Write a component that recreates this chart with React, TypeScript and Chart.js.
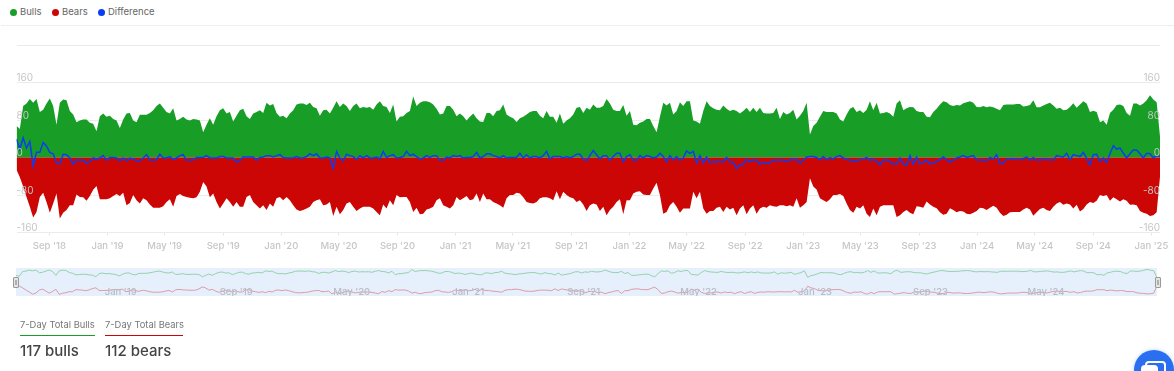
import React, { useEffect, useRef } from "react";
import { Chart, registerables } from "chart.js";

Chart.register(...registerables);

const startDate = Date.UTC(2018, 5, 24);
const endDate = Date.UTC(2025, 0, 19);
const weekMs = 7 * 24 * 3600 * 1000;

const bulls = [
  68,61,110,115,125,117,125,97,102,115,126,110,70,117,124,122,99,92,75,79,81,81,74,72,56,88,94,87,89,82,79,63,81,94,95,79,75,91,91,91,95,101,110,115,106,97,94,105,79,82,87,81,79,82,81,79,54,70,84,70,88,101,105,94,97,77,89,101,104,88,82,94,97,101,95,117,111,114,95,87,89,84,94,101,113,115,
  115,112,117,108,105,89,101,102,94,106,120,108,115,110,99,110,115,105,108,106,108,102,113,120,110,108,95,113,77,87,88,95,99,130,110,117,120,120,118,113,104,92,94,110,110,102,88,94,88,79,87,94,84,77,76,95,95,88,99,101,113,92,87,84,76,84,87,92,97,99,99,89,84,99,87,87,74,94,72,79,84,92,106,108,95,106,102,113,106,106,
  110,125,115,102,99,99,112,89,99,70,69,74,77,82,82,67,54,87,117,111,117,92,99,118,110,120,120,79,77,72,99,120,110,105,102,101,111,104,99,102,99,94,99,106,97,106,97,106,95,94,94,95,106,82,97,92,95,102,81,89,99,117,49,67,74,87,99,97,97,97,94,81,77,92,104,108,97,101,95,102,120,101,117,94,95,97,94,87,115,122,
  101,105,108,107,99,97,97,87,86,97,104,113,120,118,112,110,112,111,116,118,120,117,108,107,110,107,109,107,104,101,112,113,113,113,114,114,109,110,112,122,107,107,111,114,117,111,104,106,101,102,108,116,106,113,120,115,97,100,97,75,79,70,95,102,112,113,110,95,89,115,115,111,115,122,133,124,118,45,
];

const bears = [
  -26,-42,-62,-84,-105,-128,-116,-84,-75,-95,-118,-98,-77,-130,-118,-112,-102,-102,-79,-84,-85,-92,-82,-69,-61,-89,-89,-89,-87,-82,-78,-82,-75,-102,-97,-80,-91,-98,-87,-91,-100,-107,-107,-107,-104,-95,-89,-105,-82,-78,-82,-84,-86,-87,-85,-73,-52,-62,-85,-77,-95,-109,-98,-87,-95,-105,-95,-105,-105,-84,-80,-95,-102,-109,-102,-112,-98,-105,-87,-84,-91,-84,-91,-102,-111,-114,
  -112,-109,-105,-95,-91,-89,-102,-100,-95,-125,-105,-121,-112,-98,-95,-105,-114,-109,-105,-105,-105,-109,-116,-123,-100,-109,-91,-102,-80,-85,-84,-84,-95,-116,-107,-121,-120,-111,-109,-105,-91,-87,-102,-105,-109,-102,-84,-91,-87,-82,-91,-89,-77,-95,-77,-89,-89,-95,-98,-102,-107,-87,-80,-80,-75,-77,-85,-95,-97,-98,-95,-87,-85,-85,-87,-91,-72,-89,-73,-80,-85,-87,-95,-91,-100,-114,-102,-98,-100,-114,
  -105,-123,-112,-105,-95,-89,-121,-91,-91,-77,-73,-72,-79,-80,-80,-66,-54,-80,-120,-116,-102,-95,-105,-118,-109,-109,-109,-73,-87,-73,-109,-120,-114,-114,-107,-105,-116,-105,-111,-107,-123,-109,-102,-121,-109,-102,-120,-109,-105,-107,-102,-104,-105,-102,-102,-104,-102,-105,-87,-107,-102,-95,-44,-62,-68,-87,-91,-95,-89,-80,-80,-78,-82,-98,-112,-118,-105,-109,-102,-120,-127,-109,-123,-105,-102,-102,-102,-102,-127,-123,
  -116,-112,-118,-121,-104,-105,-107,-94,-100,-105,-108,-117,-122,-120,-108,-112,-117,-114,-115,-120,-121,-118,-114,-107,-108,-112,-107,-103,-107,-118,-125,-122,-117,-116,-116,-116,-111,-107,-111,-124,-117,-110,-107,-112,-114,-105,-98,-95,-101,-98,-100,-109,-101,-115,-110,-100,-95,-97,-92,-80,-82,-80,-92,-85,-89,-94,-89,-92,-101,-100,-102,-114,-118,-120,-125,-123,-117,-41,
];

const difference = [
  39,18,42,20,34,-18,11,11,32,24,11,8,-11,-14,7,6,-1,-14,-5,-6,-6,-12,-9,-1,-3,-1,4,-6,0,0,-1,-7,-1,-7,-1,-3,-7,-7,-1,6,-5,-7,-4,7,-1,-1,2,-4,-1,4,6,-6,-6,-5,0,0,0,4,-1,-1,-1,2,2,-1,-1,-1,-10,-6,1,1,1,1,-6,0,1,4,4,1,4,6,0,-1,-1,-1,2,-1,
  -1,2,8,4,8,-1,-1,1,-1,-23,13,-1,-7,7,4,2,-4,4,-1,4,-1,-1,1,-3,13,0,4,6,-1,0,2,13,4,7,2,-3,-1,4,0,4,4,-6,-6,1,-1,4,2,4,-1,0,0,2,11,-1,2,8,8,4,2,-1,4,-1,0,0,0,9,-1,6,-1,2,2,-1,4,13,-3,2,2,2,-1,2,-1,2,7,7,-3,-7,4,15,6,-3,
  4,4,-6,2,9,9,-9,2,6,-6,-6,4,-1,4,2,-1,1,9,2,-9,4,-5,2,-6,-1,14,9,13,-11,4,-12,1,-11,-9,-9,-9,-9,0,-9,-11,-23,-16,-14,-4,-9,-6,-5,-14,-11,-11,-11,-6,-6,-6,-6,-9,-5,-5,-4,-12,-6,1,2,2,0,-5,2,-5,0,-3,2,4,-1,-4,-6,-9,-7,-5,-4,0,-6,-4,-8,-16,-6,-5,-9,-14,-14,-1,
  -14,-16,4,-14,1,-14,-10,-6,-14,-11,-9,-4,1,-5,-10,-6,-1,1,4,0,2,4,-5,-6,-6,-7,0,-3,6,-14,-12,-4,-3,-2,-4,-5,-2,1,-6,0,-6,-5,-4,-4,-5,-6,4,2,1,9,-5,6,4,2,11,-2,-16,6,7,-9,-1,-11,8,25,18,20,9,-1,8,16,16,8,-1,9,8,-1,4,2,
];

const mainTickLabels = ["Sep '18","Jan '19","May '19","Sep '19","Jan '20","May '20","Sep '20","Jan '21","May '21","Sep '21","Jan '22","May '22","Sep '22","Jan '23","May '23","Sep '23","Jan '24","May '24","Sep '24","Jan '25"];
const mainTickDates = [[2018,8],[2019,0],[2019,4],[2019,8],[2020,0],[2020,4],[2020,8],[2021,0],[2021,4],[2021,8],[2022,0],[2022,4],[2022,8],[2023,0],[2023,4],[2023,8],[2024,0],[2024,4],[2024,8],[2025,0]];
const navTickLabels = ["Jan '19","Sep '19","May '20","Jan '21","Sep '21","May '22","Jan '23","Sep '23","May '24"];
const navTickDates = [[2019,0],[2019,8],[2020,4],[2021,0],[2021,8],[2022,4],[2023,0],[2023,8],[2024,4]];
const seriesNames = ["Bulls", "Bears", "Difference"];
const yTicks = [-160, -80, 0, 80, 160, 240];

const GREEN = "#189e27";
const RED = "#cc0505";
const BLUE = "#0b3ef2";
const FONT = "Inter, 'Noto Sans', sans-serif";

const pts = (a: number[]) => a.map((y, i) => ({ x: startDate + i * weekMs, y }));
const toMs = (l: number[][]) => l.map(([y, m]) => Date.UTC(y, m, 1));

export default function App() {
  const mainRef = useRef<HTMLCanvasElement>(null);
  const navRef = useRef<HTMLCanvasElement>(null);

  useEffect(() => {
    const mainMs = toMs(mainTickDates);
    const navMs = toMs(navTickDates);
    const yOpts = (position: string, drawGrid: boolean) => ({
      type: "linear",
      position,
      min: -160,
      max: 240,
      afterBuildTicks: (s: any) => { s.ticks = yTicks.map((value) => ({ value })); },
      afterFit: (s: any) => { s.width = 0; },
      grid: { display: drawGrid, color: "#ebebeb", drawTicks: false },
      border: { display: false },
      ticks: {
        mirror: true,
        padding: 0,
        z: 2,
        labelOffset: -4.5,
        color: "#c6c6c6",
        font: { family: FONT, size: 10 },
        callback: (v: number) => (v === 240 ? "" : String(v)),
      },
    });
    const main = new Chart(mainRef.current!, {
      type: "line",
      data: {
        datasets: [
          { label: seriesNames[0], data: pts(bulls), backgroundColor: GREEN, borderWidth: 0, fill: "origin", pointRadius: 0, order: 2 },
          { label: seriesNames[1], data: pts(bears), backgroundColor: RED, borderWidth: 0, fill: "origin", pointRadius: 0, order: 1 },
          { label: seriesNames[2], data: pts(difference), borderColor: BLUE, borderWidth: 1.5, fill: false, pointRadius: 0, order: 0, yAxisID: "y" },
        ],
      } as any,
      options: {
        responsive: false,
        animation: false,
        devicePixelRatio: 1,
        layout: { padding: { left: 16.5, right: 14, top: 45, bottom: 0 } },
        plugins: { legend: { display: false }, tooltip: { enabled: false } },
        scales: {
          x: {
            type: "linear",
            min: startDate,
            max: endDate,
            afterBuildTicks: (s: any) => { s.ticks = mainMs.map((value) => ({ value })); },
            afterFit: (s: any) => { s.height = 27.5; },
            grid: { drawOnChartArea: false, color: "#e6e6e6", tickLength: 3 },
            border: { display: false },
            ticks: {
              autoSkip: false,
              maxRotation: 0,
              padding: 5,
              color: "#c6c6c6",
              font: { family: FONT, size: 9.5, weight: 500 },
              callback: (_: any, i: number) => mainTickLabels[i],
            },
          },
          y: yOpts("left", true),
          y2: yOpts("right", false),
        },
      } as any,
    });
    const nav = new Chart(navRef.current!, {
      type: "line",
      data: {
        datasets: [
          { label: seriesNames[0], data: pts(bulls), borderColor: "#94d2a8", borderWidth: 1, fill: false, pointRadius: 0 },
          { label: seriesNames[1], data: pts(bears), borderColor: "#dc9ba6", borderWidth: 1, fill: false, pointRadius: 0 },
        ],
      } as any,
      options: {
        responsive: false,
        animation: false,
        devicePixelRatio: 1,
        layout: { padding: 0 },
        plugins: { legend: { display: false }, tooltip: { enabled: false } },
        scales: {
          x: {
            type: "linear",
            min: startDate,
            max: endDate,
            afterBuildTicks: (s: any) => { s.ticks = navMs.map((value) => ({ value })); },
            afterFit: (s: any) => { s.height = 0; },
            grid: { display: false, drawTicks: false },
            border: { display: false },
            ticks: {
              mirror: true,
              autoSkip: false,
              maxRotation: 0,
              padding: -1.5,
              z: 2,
              labelOffset: 14,
              color: "#b9bcc4",
              font: { family: FONT, size: 9.5, weight: 500 },
              callback: (_: any, i: number) => navTickLabels[i],
            },
          },
          y: {
            min: -147,
            max: 147,
            display: false,
          },
        },
      } as any,
    });
    return () => {
      main.destroy();
      nav.destroy();
    };
  }, []);

  const legendItems = [
    { name: seriesNames[0], color: GREEN, dot: 13, text: 20 },
    { name: seriesNames[1], color: RED, dot: 55, text: 62 },
    { name: seriesNames[2], color: BLUE, dot: 101, text: 108 },
  ];
  const stats = [
    { title: "7-Day Total Bulls", value: "117 bulls", color: GREEN, left: 20, width: 75 },
    { title: "7-Day Total Bears", value: "112 bears", color: RED, left: 105, width: 78 },
  ];
  const abs = (o: React.CSSProperties): React.CSSProperties => ({ position: "absolute", ...o });

  return (
    <div style={abs({ left: 0, top: 0, width: 1174, height: 371, overflow: "hidden", background: "#fff", fontFamily: FONT })}>
      {legendItems.map((l) => (
        <React.Fragment key={l.name}>
          <div style={abs({ left: l.dot - 3.5, top: 8.5, width: 7, height: 7, borderRadius: "50%", background: l.color })} />
          <div style={abs({ left: l.text, top: 5, fontSize: 9.5, lineHeight: "14px", color: "#666" })}>{l.name}</div>
        </React.Fragment>
      ))}
      <div style={abs({ left: 1, right: 0, top: 25, height: 1, background: "#eeeeee" })} />
      <canvas ref={mainRef} width={1174} height={260} style={abs({ left: 0, top: 0, width: 1174, height: 260 })} />
      <div
        style={abs({
          left: 16,
          top: 268,
          width: 1141,
          height: 28,
          backgroundColor: "#e6effc",
          backgroundImage: "radial-gradient(rgba(170,185,210,0.55) 0.5px, transparent 0.6px)",
          backgroundSize: "4px 4px",
        })}
      />
      <canvas ref={navRef} width={1141} height={28} style={abs({ left: 16, top: 268, width: 1141, height: 28 })} />
      {[13, 1155].map((x) => (
        <div key={x} style={abs({ left: x, top: 277, width: 4, height: 9, background: "#e4e4e4", border: "1px solid #9a9a9a", borderRadius: 1 })}>
          <div style={abs({ left: 1, top: 2, width: 2, height: 5, background: "#b0b0b0" })} />
        </div>
      ))}
      {stats.map((s) => (
        <React.Fragment key={s.title}>
          <div style={abs({ left: s.left, top: 318, fontSize: 9.4, lineHeight: "14px", color: "#777", whiteSpace: "nowrap" })}>{s.title}</div>
          <div style={abs({ left: s.left, top: 335, width: s.width, height: 1, background: s.color })} />
          <div style={abs({ left: s.left, top: 341, fontSize: 15, lineHeight: "20px", fontWeight: 500, color: "#444", whiteSpace: "nowrap" })}>{s.value}</div>
        </React.Fragment>
      ))}
      <div style={abs({ left: 1134, top: 350, width: 40, height: 40, borderRadius: "50%", background: "#2a6ff0", boxShadow: "0 0 4px rgba(42,111,240,0.3)" })} />
      <div style={abs({ left: 1145, top: 361, width: 17, height: 14, borderRadius: 4, border: "2px solid #fff", background: "#2a6ff0" })} />
      <div style={abs({ left: 1141, top: 365, width: 17, height: 14, borderRadius: 4, background: "#fff" })} />
    </div>
  );
}
